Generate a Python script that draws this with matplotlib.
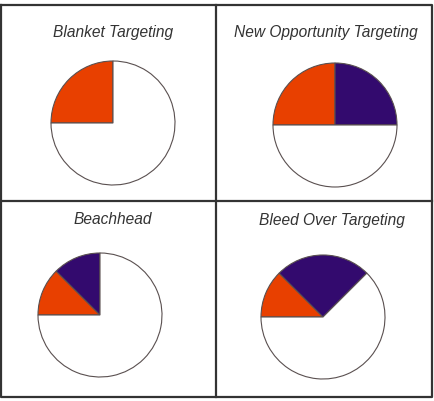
import matplotlib
matplotlib.use("Agg")
import matplotlib.pyplot as plt

# dane: udziały w każdym panelu (procent obwodu)
titles = ["Blanket Targeting", "New Opportunity Targeting", "Beachhead", "Bleed Over Targeting"]
orange_share = [25, 25, 12.5, 12.5]
purple_share = [0, 25, 12.5, 25]
white_share = [75, 50, 75, 62.5]

W, H = 435, 401
fig = plt.figure(figsize=(W / 100, H / 100), dpi=100)
ax = fig.add_axes([0, 0, 1, 1])

# pozycje w pikselach (y od góry)
centers = [(113, 123), (335, 125), (100, 315), (323, 317)]
title_pos = [(113, 32), (326, 32), (113, 220), (332, 220)]
radius = 62

orange = "#E84000"
purple = "#330A6E"
edge = "#5a5050"

for i in range(4):
    vals = [orange_share[i], purple_share[i], white_share[i]]
    cols = [orange, purple, "white"]
    v = [x for x in vals if x > 0]
    c = [cols[k] for k in range(3) if vals[k] > 0]
    cx, cy = centers[i]
    ax.pie(v, colors=c, startangle=180, counterclock=False,
           center=(cx, H - cy), radius=radius, frame=True,
           wedgeprops=dict(edgecolor=edge, linewidth=0.8))
    tx, ty = title_pos[i]
    ax.text(tx, H - ty, titles[i], ha="center", va="center", fontsize=11.2,
            style="italic", color="#333333", family="Liberation Sans")

# ramki
lc = "#333333"
lw = 1.6
ax.plot([1.5, 432, 432, 1.5, 1.5], [H - 4.5, H - 4.5, H - 397, H - 397, H - 4.5], color=lc, lw=lw)
ax.plot([216, 216], [H - 4.5, H - 397], color=lc, lw=lw)
ax.plot([1.5, 432], [H - 201, H - 201], color=lc, lw=lw)

ax.set_xlim(0, W)
ax.set_ylim(0, H)
ax.set_aspect("auto")
ax.axis("off")

plt.savefig("out.png", dpi=100)
